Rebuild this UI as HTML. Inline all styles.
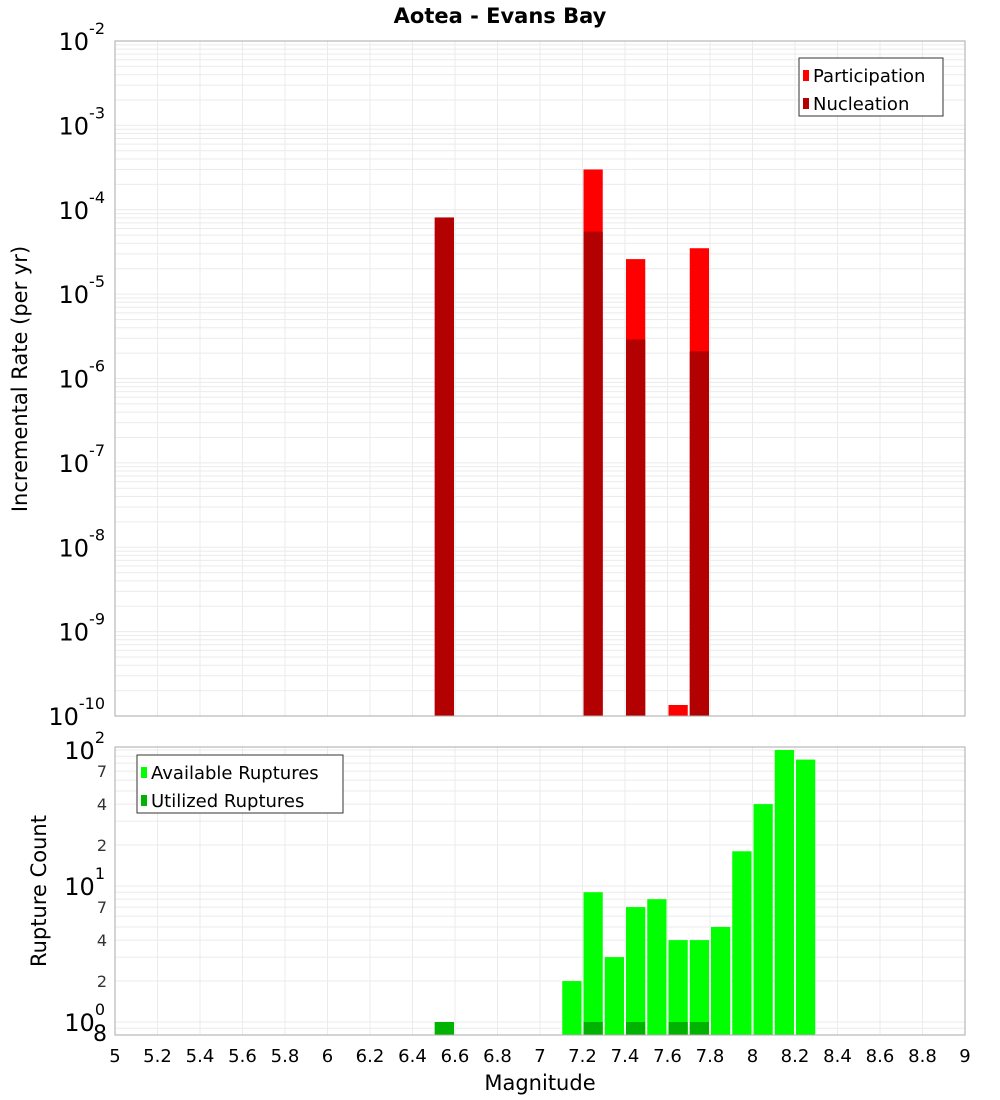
<!DOCTYPE html>
<html><head><meta charset="utf-8"><style>
body{margin:0;background:#fff}
svg{display:block;font-family:"DejaVu Sans","Liberation Sans",sans-serif}
</style></head><body>
<svg id="c" width="1000" height="1100">
<text x="500" y="23" text-anchor="middle" font-size="21" font-weight="bold">Aotea - Evans Bay</text>
<text transform="translate(27,379) rotate(-90)" text-anchor="middle" font-size="21">Incremental Rate (per yr)</text>
<text transform="translate(46,891) rotate(-90)" text-anchor="middle" font-size="21">Rupture Count</text>
<text x="540" y="1090" text-anchor="middle" font-size="21">Magnitude</text>
<g id="gtop"></g><g id="gbot"></g>
</svg>
<script>
const mags=[6.5,7.2,7.4,7.6,7.7];
const participation=[8.1e-5,3.0e-4,2.6e-5,1.35e-10,3.5e-5];
const nucleation=[8.1e-5,5.5e-5,2.9e-6,0,2.1e-6];
const countMags=[6.5,7.1,7.2,7.3,7.4,7.5,7.6,7.7,7.8,7.9,8.0,8.1,8.2];
const available=[1,2,9,3,7,8,4,4,5,18,40,100,85];
const utilized=[1,0,1,0,1,0,1,1,0,0,0,0,0];
const xTicks=[5,5.2,5.4,5.6,5.8,6,6.2,6.4,6.6,6.8,7,7.2,7.4,7.6,7.8,8,8.2,8.4,8.6,8.8,9];
const topExps=[-10,-9,-8,-7,-6,-5,-4,-3,-2];
const botMinor=[2,4,7];

const NS="http://www.w3.org/2000/svg";
const L=115,R=965;
const x=m=>L+(m-5)*(R-L)/4;
const T0=41,T1=716;
const yT=v=>T1-(Math.log10(v)+10)*(T1-T0)/8;
const B0=747,B1=1035;
const yB=v=>1022-136*Math.log10(v);
function el(p,t,a,txt){const e=document.createElementNS(NS,t);for(const k in a)e.setAttribute(k,a[k]);if(txt!==undefined)e.textContent=txt;p.appendChild(e);return e;}
const gTop=document.getElementById('gtop'),gBot=document.getElementById('gbot');

function grid(g,y0,y1,yf,lo,hi){
  for(let e=lo;e<hi;e++)for(let k=1;k<10;k++){const yy=yf(k*Math.pow(10,e));if(yy>=y0&&yy<=y1){const ln=el(g,'line',{x1:L,x2:R,y1:yy,y2:yy,stroke:'#ebebeb','stroke-width':1});

}}
  xTicks.forEach(t=>{const ln=el(g,'line',{x1:x(t),x2:x(t),y1:y0,y2:y1,stroke:'#ebebeb','stroke-width':1});

});
}
grid(gTop,T0,T1,yT,-10,-1);
grid(gBot,B0,B1,yB,-1,3);

mags.forEach((m,i)=>{
  const r=el(gTop,'rect',{x:x(m)+1,y:yT(participation[i]),width:x(m+0.1)-x(m)-2,height:T1-yT(participation[i]),fill:'#ff0000'});
  
  
  if(nucleation[i]>0){const n=el(gTop,'rect',{x:x(m)+1,y:yT(nucleation[i]),width:x(m+0.1)-x(m)-2,height:T1-yT(nucleation[i]),fill:'#b30000'});
  
  }
});
countMags.forEach((m,i)=>{
  const r=el(gBot,'rect',{x:x(m)+1,y:yB(available[i]),width:x(m+0.1)-x(m)-2,height:B1-yB(available[i]),fill:'#00ff00'});
  
  
  if(utilized[i]>0){const u=el(gBot,'rect',{x:x(m)+1,y:yB(utilized[i]),width:x(m+0.1)-x(m)-2,height:B1-yB(utilized[i]),fill:'#00b300'});
  
  }
});
let f=el(gTop,'rect',{x:L,y:T0,width:R-L,height:T1-T0,fill:'none',stroke:'#aaa'});


f=el(gBot,'rect',{x:L,y:B0,width:R-L,height:B1-B0,fill:'none',stroke:'#aaa'});



topExps.forEach(e=>{
  const t=el(gTop,'text',{x:105,y:yT(Math.pow(10,e))+9,'text-anchor':'end','font-size':24});
  
  
  el(t,'tspan',{},'10');
  el(t,'tspan',{dy:-16,'font-size':16},String(e));
});
[0,1,2].forEach(e=>{
  const t=el(gBot,'text',{x:105,y:yB(Math.pow(10,e))+9,'text-anchor':'end','font-size':24});
  
  
  el(t,'tspan',{},'10');
  el(t,'tspan',{dy:-16,'font-size':16},String(e));
});
for(let e=0;e<2;e++)botMinor.forEach(k=>{
  const t=el(gBot,'text',{x:107,y:yB(k*Math.pow(10,e))+6,'text-anchor':'end','font-size':16,fill:'#333'},String(k));
  
  
});
let t8=el(gBot,'text',{x:107,y:1041,'text-anchor':'end','font-size':22},'8');


xTicks.forEach(m=>{
  const t=el(gBot,'text',{x:x(m),y:1062,'text-anchor':'middle','font-size':18},String(m));
  
  
});
function legend(g,lx,ly,w,items){
  const b=el(g,'rect',{x:lx,y:ly,width:w,height:58,fill:'#fff',stroke:'#333'});
  
  
  items.forEach((it,i)=>{
    const s=el(g,'rect',{x:lx+4,y:ly+12+i*28,width:6,height:11,fill:it[1]});
    
    
    const t=el(g,'text',{x:lx+14,y:ly+24+i*28,'font-size':18},it[0]);
    
    
  });
}
legend(gTop,799,58,144,[['Participation','#ff0000'],['Nucleation','#b30000']]);
legend(gBot,137,755,206,[['Available Ruptures','#00ff00'],['Utilized Ruptures','#00b300']]);
</script>
</body></html>
